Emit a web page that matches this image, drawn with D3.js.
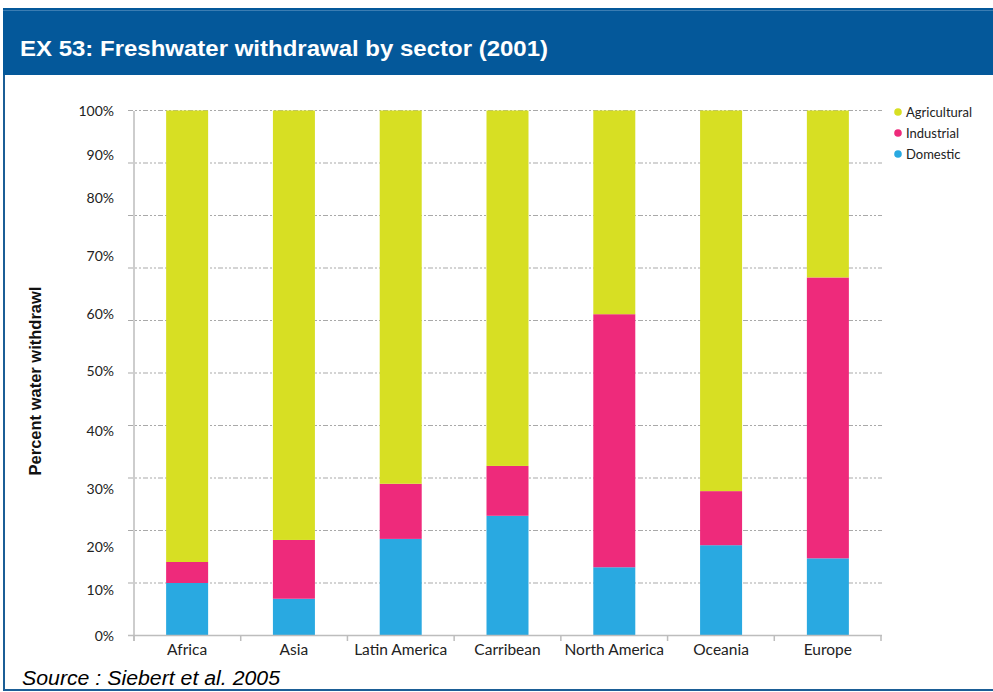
<!DOCTYPE html>
<html>
<head>
<meta charset="utf-8">
<script src="https://cdn.jsdelivr.net/npm/d3@7"></script>
<style>
  html, body { margin: 0; padding: 0; background: #fff; }
  svg { display: block; }
</style>
</head>
<body>
<svg id="chart" width="993" height="692"></svg>
<script>
// ---- data ----
const categories = ["Africa", "Asia", "Latin America", "Carribean", "North America", "Oceania", "Europe"];
const domestic     = [10, 7, 18.4, 22.8, 13.0, 17.2, 14.7];
const industrial   = [4, 11.2, 10.5, 9.5, 48.2, 10.3, 53.5];
const agricultural = [86, 81.8, 71.1, 67.7, 38.8, 72.5, 31.8];
const seriesNames  = ["Domestic", "Industrial", "Agricultural"];
const legendOrder  = ["Agricultural", "Industrial", "Domestic"];
const gridValues   = [0, 10, 20, 30, 40, 50, 60, 70, 80, 90, 100];
const tickLabels   = ["0%", "10%", "20%", "30%", "40%", "50%", "60%", "70%", "80%", "90%", "100%"];
// where the original picture prints each tick label (it is offset from the grid lines)
const tickLabelAt  = [0, 8.6, 16.8, 28.0, 38.9, 50.3, 61.2, 72.2, 83.4, 91.5, 100];
const titleText  = "EX 53: Freshwater withdrawal by sector (2001)";
const yTitle     = "Percent water withdrawl";
const sourceText = "Source : Siebert et al. 2005";

const colors = { Agricultural: "#d7df23", Industrial: "#ee2a7b", Domestic: "#29a9e1" };

const svg = d3.select("#chart");
const W = 993, H = 692;

// frame & title bar
svg.append("rect").attr("x", 3).attr("y", 8).attr("width", W - 3).attr("height", 67).attr("fill", "#04589a");
svg.append("line").attr("x1", 3).attr("x2", W).attr("y1", 10.5).attr("y2", 10.5).attr("stroke", "#3b7db3").attr("stroke-width", 1);
svg.append("line").attr("x1", 4).attr("x2", 4).attr("y1", 75).attr("y2", 691).attr("stroke", "#1b5e96").attr("stroke-width", 2);
svg.append("line").attr("x1", 3).attr("x2", W).attr("y1", 690).attr("y2", 690).attr("stroke", "#1b5e96").attr("stroke-width", 2);
svg.append("text").attr("x", 20).attr("y", 56)
  .attr("font-family", "Liberation Sans, Arial, sans-serif").attr("font-weight", "bold")
  .attr("font-size", 22).attr("fill", "#fff")
  .attr("textLength", 528).attr("lengthAdjust", "spacingAndGlyphs")
  .text(titleText);

// scales
const x = d3.scaleBand().domain(categories).range([134, 881]).paddingInner(0.605).paddingOuter(0.3);
const y = d3.scaleLinear().domain([0, 100]).range([635.5, 110.5]);

// grid lines
svg.append("g").selectAll("line").data(gridValues.filter(v => v > 0)).join("line")
  .attr("x1", 128).attr("x2", 882)
  .attr("y1", d => y(d)).attr("y2", d => y(d))
  .attr("stroke", "#a9a9a9").attr("stroke-width", 1)
  .attr("stroke-dasharray", "5,2,2,2,2,2");

// stacked bars
const rows = categories.map((c, i) => ({ cat: c, Domestic: domestic[i], Industrial: industrial[i], Agricultural: agricultural[i] }));
const stack = d3.stack().keys(seriesNames)(rows);
const bw = 42;
svg.append("g").selectAll("g").data(stack).join("g")
  .attr("fill", d => colors[d.key])
  .selectAll("rect").data(d => d).join("rect")
  .attr("x", d => x(d.data.cat) + x.bandwidth() / 2 - bw / 2)
  .attr("width", bw)
  .attr("y", d => y(Math.min(100, d[1])))
  .attr("height", d => y(d[0]) - y(Math.min(100, d[1])));

// axes lines
const axisColor = "#bdbdbd";
svg.append("line").attr("x1", 134).attr("x2", 134).attr("y1", 111).attr("y2", 641).attr("stroke", axisColor).attr("stroke-width", 1.5);
svg.append("line").attr("x1", 128).attr("x2", 882).attr("y1", 635.5).attr("y2", 635.5).attr("stroke", axisColor).attr("stroke-width", 1.5);
// x tick marks at band boundaries
const step = (881 - 134) / categories.length;
svg.append("g").selectAll("line").data(d3.range(categories.length + 1)).join("line")
  .attr("x1", i => 134 + i * step).attr("x2", i => 134 + i * step)
  .attr("y1", 635.5).attr("y2", 641)
  .attr("stroke", axisColor).attr("stroke-width", 1.5);

// x labels
svg.append("g").selectAll("text").data(categories).join("text")
  .attr("x", d => x(d) + x.bandwidth() / 2).attr("y", 655)
  .attr("text-anchor", "middle")
  .attr("font-family", "Lato, 'Noto Sans', sans-serif").attr("font-size", 15.5).attr("fill", "#222")
  .text(d => d);

// y labels
svg.append("g").selectAll("text").data(tickLabels).join("text")
  .attr("x", 114).attr("y", (d, i) => y(tickLabelAt[i]) + 5)
  .attr("text-anchor", "end")
  .attr("font-family", "Lato, 'Noto Sans', sans-serif").attr("font-size", 14).attr("fill", "#222")
  .text(d => d);

// y title
svg.append("text")
  .attr("transform", "translate(41,381) rotate(-90)")
  .attr("text-anchor", "middle")
  .attr("font-family", "Liberation Sans, Arial, sans-serif").attr("font-weight", "bold")
  .attr("font-size", 16.5).attr("fill", "#111")
  .text(yTitle);

// legend
const lg = svg.append("g").selectAll("g").data(legendOrder).join("g")
  .attr("transform", (d, i) => `translate(898, ${112 + i * 21})`);
lg.append("circle").attr("r", 3.8).attr("fill", d => colors[d]);
lg.append("text").attr("x", 8).attr("y", 4.5)
  .attr("font-family", "Lato, 'Noto Sans', sans-serif").attr("font-size", 13).attr("fill", "#222")
  .text(d => d);

// source
svg.append("text").attr("x", 22).attr("y", 685)
  .attr("font-family", "Liberation Sans, Arial, sans-serif").attr("font-style", "italic")
  .attr("font-size", 20).attr("fill", "#000")
  .attr("textLength", 258).attr("lengthAdjust", "spacingAndGlyphs")
  .text(sourceText);
</script>
</body>
</html>
